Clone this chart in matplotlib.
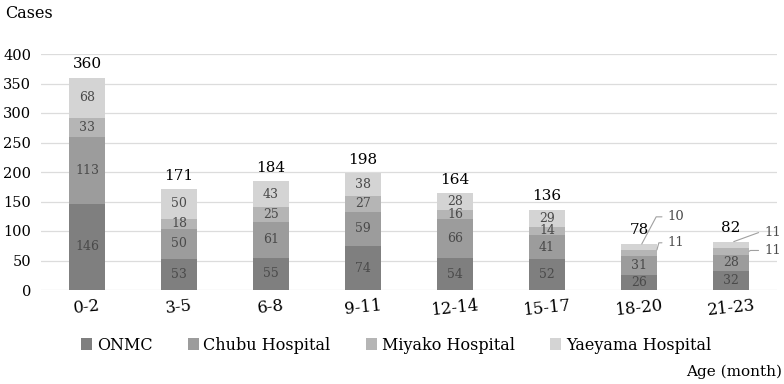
import matplotlib
matplotlib.use("Agg")
import matplotlib.pyplot as plt
import numpy as np

categories = ["0-2", "3-5", "6-8", "9-11", "12-14", "15-17", "18-20", "21-23"]
series_names = ["ONMC", "Chubu Hospital", "Miyako Hospital", "Yaeyama Hospital"]
onmc = [146, 53, 55, 74, 54, 52, 26, 32]
chubu = [113, 50, 61, 59, 66, 41, 31, 28]
miyako = [33, 18, 25, 27, 16, 14, 11, 11]
yaeyama = [68, 50, 43, 38, 28, 29, 10, 11]
totals = [360, 171, 184, 198, 164, 136, 78, 82]
yticks = [0, 50, 100, 150, 200, 250, 300, 350, 400]

colors = ["#7f7f7f", "#9c9c9c", "#b5b5b5", "#d4d4d4"]
plt.rcParams['font.family'] = ['DejaVu Serif']

fig = plt.figure(figsize=(7.84, 3.84), dpi=100)
ax = fig.add_axes([41/784, 94/384, 736/784, 236/384])

x = np.arange(len(categories))
width = 0.39
bottoms = np.zeros(len(categories))
data = [onmc, chubu, miyako, yaeyama]
for vals, name, c in zip(data, series_names, colors):
    vals = np.array(vals)
    ax.bar(x, vals, width, bottom=bottoms, color=c, label=name, zorder=3)
    for i, v in enumerate(vals):
        if i >= 6 and name in ("Miyako Hospital", "Yaeyama Hospital"):
            continue
        ax.text(x[i], bottoms[i] + v / 2, str(v), ha='center', va='center',
                fontsize=9, color='#4a4a4a', zorder=4)
    bottoms += vals

for i, t in enumerate(totals):
    ax.text(x[i], t + 11, str(t), ha='center', va='bottom', fontsize=11, color='black')

# leader-line labels for small segments of the last two bars
for i in (6, 7):
    m_bottom = onmc[i] + chubu[i]
    m_top = m_bottom + miyako[i]
    y_top = m_top + yaeyama[i]
    # Yaeyama
    ax.annotate(str(yaeyama[i]), xy=(x[i] + 0.03, y_top),
                xytext=(x[i] + 0.31 if i == 6 else x[i] + 0.36, y_top + (46 if i == 6 else 16)),
                ha='left', va='center', fontsize=9.5, color='#4a4a4a',
                arrowprops=dict(arrowstyle='-', color='#a0a0a0', lw=0.8,
                                shrinkA=2, shrinkB=0,
                                connectionstyle='angle,angleA=0,angleB=%d,rad=0' % (62 if i == 6 else 20)))
    # Miyako
    ax.annotate(str(miyako[i]), xy=(x[i] + width / 2, m_top if i == 6 else (m_bottom + m_top) / 2),
                xytext=(x[i] + 0.31 if i == 6 else x[i] + 0.36, m_top + (12 if i == 6 else -4)),
                ha='left', va='center', fontsize=9.5, color='#4a4a4a',
                arrowprops=dict(arrowstyle='-', color='#a0a0a0', lw=0.8,
                                shrinkA=2, shrinkB=0,
                                connectionstyle='angle,angleA=0,angleB=%d,rad=0' % (75 if i == 6 else 30)))

ax.set_ylim(0, 400)
ax.set_xlim(-0.5, len(categories) - 0.5)
ax.set_yticks(yticks)
ax.set_yticklabels([str(t) for t in yticks], fontsize=10.5)
ax.set_xticks(x)
ax.set_xticklabels(categories, fontsize=12, rotation=6)
ax.tick_params(axis='both', length=0)
ax.tick_params(axis='y', pad=7)
ax.tick_params(axis='x', pad=5)
ax.grid(axis='y', color='#dcdcdc', lw=0.9, zorder=0)
for s in ax.spines.values():
    s.set_visible(False)

fig.text(5/784, 1 - 14/384, "Cases", fontsize=11.5, ha='left', va='center')
fig.text(0.998, 1 - 372/384, "Age (month)", fontsize=11, ha='right', va='center')

fig.legend(loc='center', bbox_to_anchor=(396/784, 1 - 345/384), ncol=4, frameon=False,
           fontsize=11.5, handlelength=0.7, handleheight=0.7, handletextpad=0.3,
           columnspacing=2.2)

fig.savefig("out.png", dpi=100)
